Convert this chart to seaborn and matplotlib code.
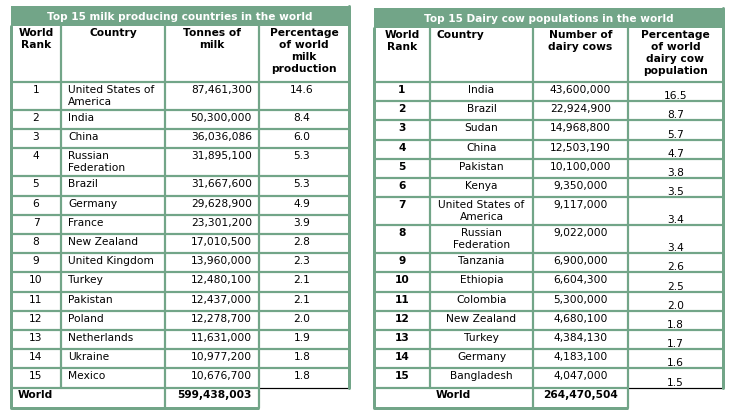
"""
Top 15 milk producing countries / dairy cow populations - two tables
"""

import matplotlib
matplotlib.use("Agg")
import matplotlib.pyplot as plt
from matplotlib.patches import Rectangle
import seaborn as sns

# --- data -------------------------------------------------------------
milk_title = "Top 15 milk producing countries in the world"
milk_headers = ["World\nRank", "Country", "Tonnes of\nmilk",
                "Percentage\nof world\nmilk\nproduction"]
milk_rank = ["1", "2", "3", "4", "5", "6", "7", "8", "9", "10",
             "11", "12", "13", "14", "15"]
milk_country = ["United States of\nAmerica", "India", "China", "Russian\nFederation",
                "Brazil", "Germany", "France", "New Zealand", "United Kingdom",
                "Turkey", "Pakistan", "Poland", "Netherlands", "Ukraine", "Mexico"]
milk_tonnes = [87461300, 50300000, 36036086, 31895100, 31667600, 29628900,
               23301200, 17010500, 13960000, 12480100, 12437000, 12278700,
               11631000, 10977200, 10676700]
milk_pct = [14.6, 8.4, 6.0, 5.3, 5.3, 4.9, 3.9, 2.8, 2.3, 2.1, 2.1, 2.0,
            1.9, 1.8, 1.8]
milk_world = 599438003

cow_title = "Top 15 Dairy cow populations in the world"
cow_headers = ["World\nRank", "Country", "Number of\ndairy cows",
               "Percentage\nof world\ndairy cow\npopulation"]
cow_rank = ["1", "2", "3", "4", "5", "6", "7", "8", "9", "10",
            "11", "12", "13", "14", "15"]
cow_country = ["India", "Brazil", "Sudan", "China", "Pakistan", "Kenya",
               "United States of\nAmerica", "Russian\nFederation", "Tanzania",
               "Ethiopia", "Colombia", "New Zealand", "Turkey", "Germany",
               "Bangladesh"]
cow_count = [43600000, 22924900, 14968800, 12503190, 10100000, 9350000,
             9117000, 9022000, 6900000, 6604300, 5300000, 4680100, 4384130,
             4183100, 4047000]
cow_pct = [16.5, 8.7, 5.7, 4.7, 3.8, 3.5, 3.4, 3.4, 2.6, 2.5, 2.0, 1.8,
           1.7, 1.6, 1.5]
cow_world = 264470504

# --- style ------------------------------------------------------------
sns.set_theme(style="white")
plt.rcParams["font.family"] = ["DejaVu Sans"]
plt.rcParams["text.color"] = "black"

GREEN = "#72a588"
FS = 7.7
LS = 1.22
PX = 72 / 100  # points per pixel at dpi 100

W, H = 735, 418
fig = plt.figure(figsize=(W / 100, H / 100), dpi=100)
ax = fig.add_axes([0, 0, 1, 1])
ax.set_xlim(0, W)
ax.set_ylim(H, 0)
ax.axis("off")


def row_heights(countries):
    return [19.2 + 8.8 * (c.count("\n")) for c in countries]


def draw_table(x_edges, top, title, headers, ranks, countries, values, pcts,
               world, style):
    left, right = x_edges[0], x_edges[-1]
    title_bot = top + 20
    head_bot = 82
    heights = row_heights(countries)
    ys = [head_bot]
    for h in heights:
        ys.append(ys[-1] + h)
    rows_bot = ys[-1]
    world_bot = rows_bot + 20

    # bandeau titre
    ax.add_patch(Rectangle((left, top), right - left, title_bot - top,
                           color=GREEN, lw=0))
    ax.text((left + right) / 2, (top + title_bot) / 2 + 0.5, title,
            color="white", fontsize=7.6, fontweight="bold",
            ha="center", va="center")

    lw = 2.2 * PX
    # lignes horizontales
    for y in ys[:-1]:
        ax.plot([left, right], [y, y], color=GREEN, lw=lw, solid_capstyle="butt")
    ax.plot([left, x_edges[3]], [rows_bot, rows_bot], color=GREEN, lw=lw,
            solid_capstyle="butt")
    ax.plot([x_edges[3], right], [rows_bot, rows_bot], color="black",
            lw=1.2 * PX, solid_capstyle="butt")
    ax.plot([left, x_edges[3]], [world_bot, world_bot], color=GREEN, lw=3 * PX,
            solid_capstyle="butt")
    # lignes verticales
    ax.plot([left, left], [title_bot, world_bot], color=GREEN, lw=3 * PX)
    ax.plot([x_edges[1], x_edges[1]], [title_bot, rows_bot], color=GREEN, lw=lw)
    ax.plot([x_edges[2], x_edges[2]], [title_bot, world_bot], color=GREEN, lw=lw)
    ax.plot([x_edges[3], x_edges[3]], [title_bot, world_bot], color=GREEN, lw=lw)
    ax.plot([right, right], [top, rows_bot], color=GREEN, lw=3 * PX)

    centers = [(x_edges[i] + x_edges[i + 1]) / 2 for i in range(4)]

    # en-tetes
    for i, hd in enumerate(headers):
        if style == "cow" and i == 1:
            ax.text(x_edges[1] + 7, title_bot + 2.5, hd, fontsize=FS,
                    fontweight="bold", ha="left", va="top", linespacing=LS)
        else:
            ax.text(centers[i], title_bot + 2.5, hd, fontsize=FS,
                    fontweight="bold", ha="center", va="top", linespacing=LS)

    # lignes du tableau
    for k in range(len(ranks)):
        y0, y1 = ys[k], ys[k + 1]
        ty = y0 + 3
        if style == "milk":
            ax.text(centers[0], ty, ranks[k], fontsize=FS, ha="center", va="top")
            ax.text(x_edges[1] + 7, ty, countries[k], fontsize=FS, ha="left",
                    va="top", linespacing=LS)
            ax.text(x_edges[3] - 7, ty, f"{values[k]:,}", fontsize=FS,
                    ha="right", va="top")
            ax.text(centers[3] - 2, ty, f"{pcts[k]:.1f}", fontsize=FS,
                    ha="center", va="top")
        else:
            ax.text(centers[0], ty, ranks[k], fontsize=FS, fontweight="bold",
                    ha="center", va="top")
            ax.text(centers[1], ty, countries[k], fontsize=FS, ha="center",
                    va="top", linespacing=LS)
            ax.text(centers[2], ty, f"{values[k]:,}", fontsize=FS,
                    ha="center", va="top")
            ax.text(centers[3], y1 - 2, f"{pcts[k]:.1f}", fontsize=FS,
                    ha="center", va="baseline")

    # ligne World
    wy = rows_bot + 2.5
    if style == "milk":
        ax.text(left + 7, wy, "World", fontsize=FS, fontweight="bold",
                ha="left", va="top")
        ax.text(x_edges[3] - 7, wy, f"{world:,}", fontsize=FS,
                fontweight="bold", ha="right", va="top")
    else:
        ax.text((left + x_edges[2]) / 2, wy, "World", fontsize=FS,
                fontweight="bold", ha="center", va="top")
        ax.text(centers[2], wy, f"{world:,}", fontsize=FS,
                fontweight="bold", ha="center", va="top")


draw_table([11, 61, 165, 259, 349], 6, milk_title, milk_headers, milk_rank,
           milk_country, milk_tonnes, milk_pct, milk_world, "milk")
draw_table([374, 430, 533, 628, 723], 8, cow_title, cow_headers, cow_rank,
           cow_country, cow_count, cow_pct, cow_world, "cow")

fig.savefig("out.png", dpi=100, facecolor="white")
